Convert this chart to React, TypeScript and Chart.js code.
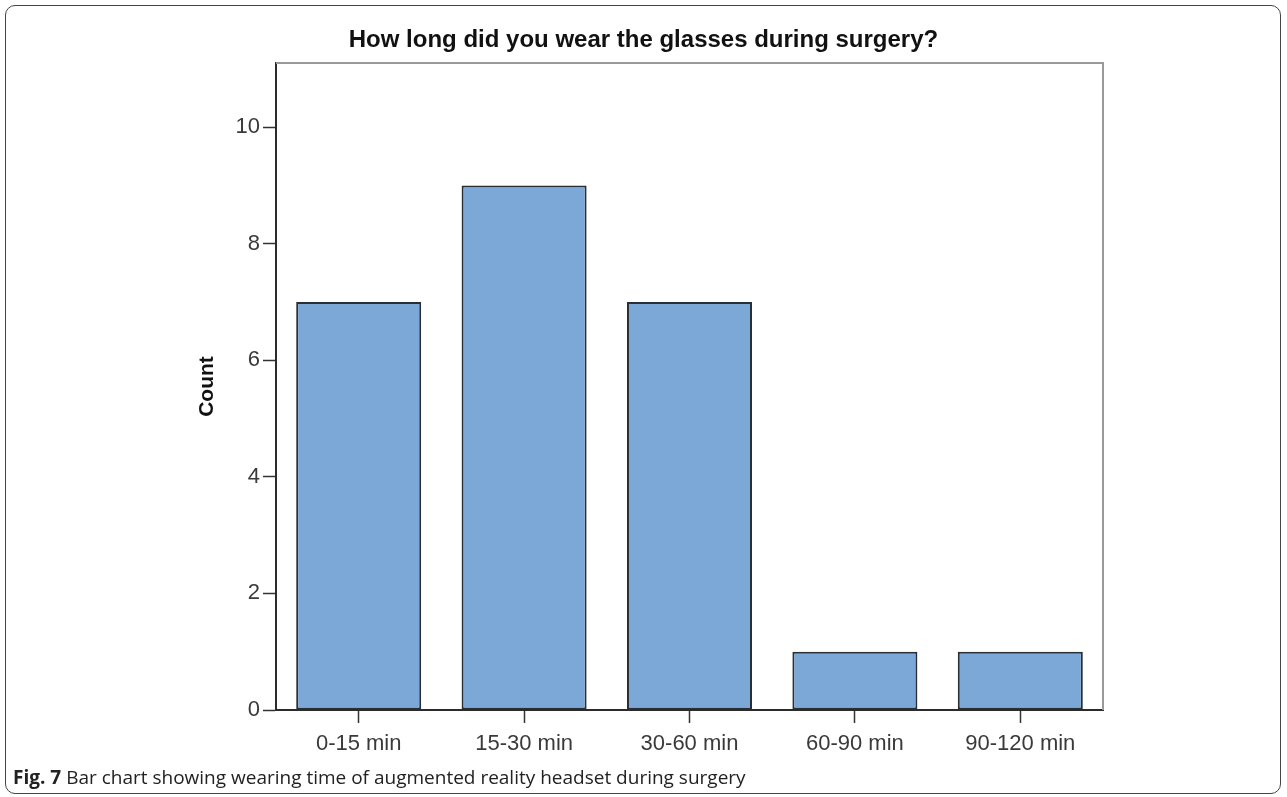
import React, { useEffect, useRef } from "react";
import { Chart, registerables } from "chart.js";

Chart.register(...registerables);

// ---- data ----
const categories = ["0-15 min", "15-30 min", "30-60 min", "60-90 min", "90-120 min"];
const counts = [7, 9, 7, 1, 1];
const yTicks = [0, 2, 4, 6, 8, 10];
const yMax = 11.1;
const chartTitle = "How long did you wear the glasses during surgery?";
const yAxisTitle = "Count";
const captionLabel = "Fig. 7";
const captionText = "Bar chart showing wearing time of augmented reality headset during surgery";

const W = 1287;
const H = 797;
const FONT = "'Liberation Sans', Arial, Helvetica, sans-serif";

const framePlugin = {
  id: "spssFrame",
  afterDatasetsDraw(chart: any) {
    const { ctx, chartArea: a } = chart;
    ctx.save();
    ctx.strokeStyle = "#9a9a9a";
    ctx.lineWidth = 2;
    ctx.beginPath();
    ctx.moveTo(a.left, a.top);
    ctx.lineTo(a.right, a.top);
    ctx.lineTo(a.right, a.bottom);
    ctx.stroke();
    ctx.restore();
  },
};

export default function App() {
  const canvasRef = useRef<HTMLCanvasElement | null>(null);

  useEffect(() => {
    if (!canvasRef.current) return;
    const chart = new Chart(canvasRef.current, {
      type: "bar",
      data: {
        labels: categories,
        datasets: [
          {
            label: yAxisTitle,
            data: counts,
            backgroundColor: "#7ba8d6",
            borderColor: "#2a2f35",
            borderWidth: 2,
            borderSkipped: false,
            categoryPercentage: 1,
            barPercentage: 0.756,
          },
        ],
      },
      options: {
        responsive: false,
        animation: false,
        layout: { padding: { left: 0, right: 184, top: 63, bottom: 27 } },
        plugins: {
          legend: { display: false },
          tooltip: { enabled: false },
          title: { display: false },
        },
        scales: {
          x: {
            grid: {
              display: true,
              drawOnChartArea: false,
              drawTicks: true,
              tickLength: 13,
              tickColor: "#333",
              tickWidth: 1.5,
              offset: false,
            },
            border: { display: true, color: "#2b2b2b", width: 2 },
            ticks: {
              color: "#3a3a3a",
              font: { family: FONT, size: 22 },
              padding: 8,
              maxRotation: 0,
              autoSkip: false,
            },
            afterFit(scale: any) {
              scale.height = 60;
            },
          },
          y: {
            min: 0,
            max: yMax,
            afterBuildTicks(scale: any) {
              scale.ticks = yTicks.map((v) => ({ value: v }));
            },
            afterFit(scale: any) {
              scale.width = 276;
            },
            grid: {
              drawOnChartArea: false,
              drawTicks: true,
              tickLength: 13,
              tickColor: "#333",
              tickWidth: 1.5,
            },
            border: { display: true, color: "#2b2b2b", width: 2 },
            ticks: {
              color: "#3a3a3a",
              font: { family: FONT, size: 22 },
              padding: 3,
            },
            title: {
              display: true,
              text: yAxisTitle,
              color: "#111",
              font: { family: FONT, size: 21, weight: "bold" },
              padding: { top: 195, bottom: 0 },
            },
          },
        },
      },
      plugins: [framePlugin],
    });
    return () => chart.destroy();
  }, []);

  return (
    <div style={{ position: "absolute", left: 0, top: 0, width: W, height: H, background: "#fff" }}>
      <canvas ref={canvasRef} width={W} height={H} style={{ position: "absolute", left: 0, top: 0 }} />
      <div
        style={{
          position: "absolute",
          left: 0,
          top: 25,
          width: W,
          textAlign: "center",
          fontFamily: FONT,
          fontWeight: "bold",
          fontSize: 24,
          color: "#111",
          whiteSpace: "nowrap",
        }}
      >
        {chartTitle}
      </div>
      <div
        style={{
          position: "absolute",
          left: 5,
          top: 5,
          width: 1276,
          height: 789,
          border: "1.5px solid #444",
          borderRadius: 10,
          boxSizing: "border-box",
          pointerEvents: "none",
        }}
      />
      <div
        style={{
          position: "absolute",
          left: 13,
          top: 764,
          fontFamily: "'Open Sans', 'Noto Sans', sans-serif",
          fontSize: 19,
          color: "#222",
          whiteSpace: "nowrap",
        }}
      >
        <b>{captionLabel}</b> {captionText}
      </div>
    </div>
  );
}
